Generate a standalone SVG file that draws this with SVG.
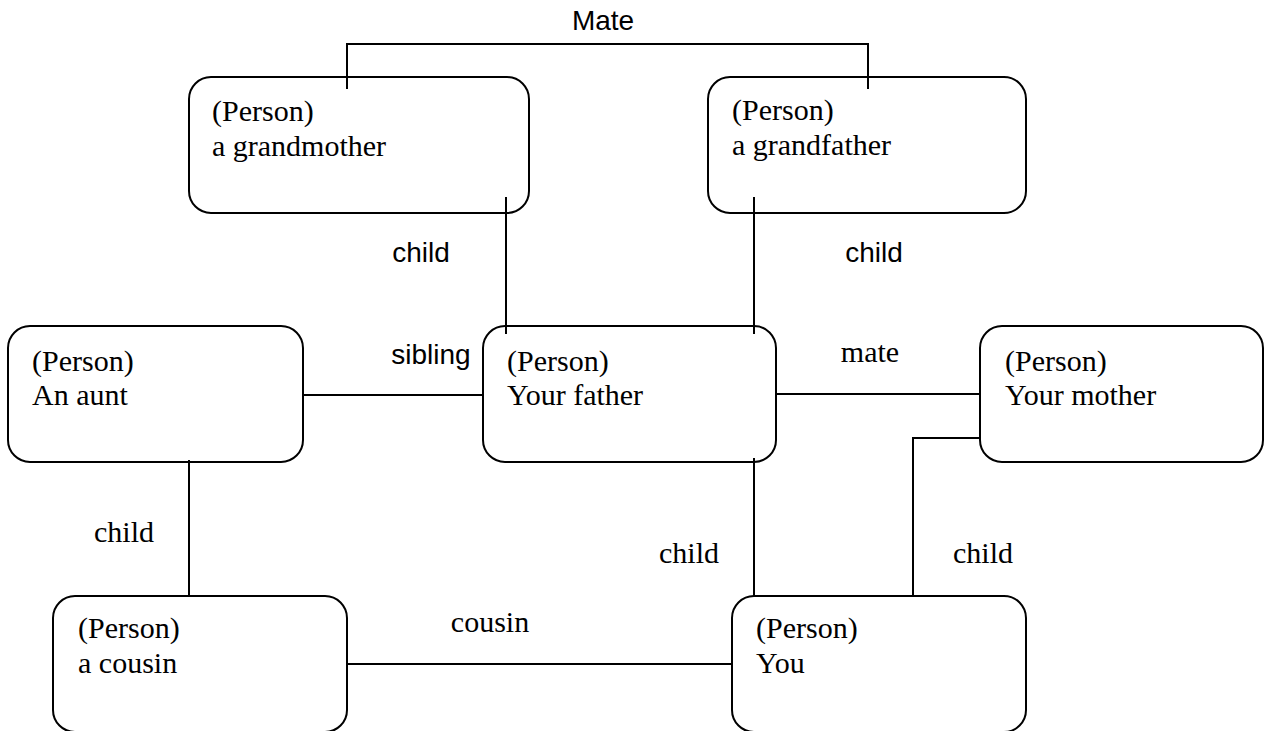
<svg xmlns="http://www.w3.org/2000/svg" width="1264" height="731" viewBox="0 0 1264 731">
<style>
.box{fill:#fff;stroke:#000;stroke-width:2}
.ln{fill:none;stroke:#000;stroke-width:2}
.t{font-family:"Liberation Serif","Times New Roman",serif;font-size:30px;fill:#000}
.s{font-family:"Liberation Sans",Arial,sans-serif;font-size:28px;fill:#000}
</style>
<rect width="1264" height="731" fill="#fff"/>
<g id="connectors">
<path class="ln" d="M347,89 V44 H868 V89"/>
<path class="ln" d="M506,197 V334"/>
<path class="ln" d="M754,197 V334"/>
<path class="ln" d="M303,395 H483"/>
<path class="ln" d="M776,394 H980"/>
<path class="ln" d="M980,438 H913 V597"/>
<path class="ln" d="M754,458 V597"/>
<path class="ln" d="M189,460 V597"/>
<path class="ln" d="M347,664 H732"/>
<text class="s" x="603" y="30" text-anchor="middle">Mate</text>
<text class="s" x="421" y="262" text-anchor="middle">child</text>
<text class="s" x="874" y="262" text-anchor="middle">child</text>
<text class="s" x="431" y="364" text-anchor="middle">sibling</text>
<text class="t" x="870" y="362" text-anchor="middle">mate</text>
<text class="t" x="124" y="542" text-anchor="middle">child</text>
<text class="t" x="689" y="563" text-anchor="middle">child</text>
<text class="t" x="983" y="563" text-anchor="middle">child</text>
<text class="t" x="490" y="632" text-anchor="middle">cousin</text>
</g>
<g id="grandmother">
<rect class="box" x="189" y="77" width="340" height="136" rx="22"/>
<text class="t" x="212" y="121">(Person)</text>
<text class="t" x="212" y="156">a grandmother</text>
</g>
<g id="grandfather">
<rect class="box" x="708" y="77" width="318" height="136" rx="22"/>
<text class="t" x="732" y="120">(Person)</text>
<text class="t" x="732" y="155">a grandfather</text>
</g>
<g id="aunt">
<rect class="box" x="8" y="326" width="295" height="136" rx="22"/>
<text class="t" x="32" y="371">(Person)</text>
<text class="t" x="32" y="405">An aunt</text>
</g>
<g id="father">
<rect class="box" x="483" y="326" width="293" height="136" rx="22"/>
<text class="t" x="507" y="371">(Person)</text>
<text class="t" x="507" y="405">Your father</text>
</g>
<g id="mother">
<rect class="box" x="980" y="326" width="283" height="136" rx="22"/>
<text class="t" x="1005" y="371">(Person)</text>
<text class="t" x="1005" y="405">Your mother</text>
</g>
<g id="cousin">
<rect class="box" x="53" y="596" width="294" height="136" rx="22"/>
<text class="t" x="78" y="638">(Person)</text>
<text class="t" x="78" y="673">a cousin</text>
</g>
<g id="you">
<rect class="box" x="732" y="596" width="294" height="136" rx="22"/>
<text class="t" x="756" y="638">(Person)</text>
<text class="t" x="756" y="673">You</text>
</g>
<path class="ln" d="M347,77 V89 M868,77 V89 M506,197 V213 M754,197 V213 M506,326 V334 M754,326 V334 M754,458 V462 M189,460 V462"/>
</svg>
